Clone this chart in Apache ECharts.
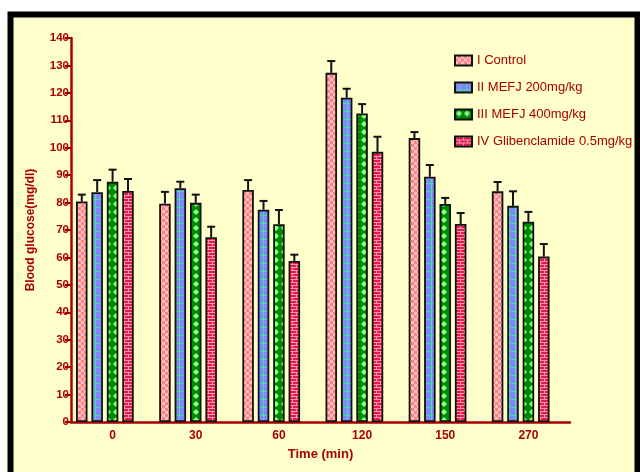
<!DOCTYPE html>
<html>
<head>
<meta charset="utf-8">
<script src="https://cdn.jsdelivr.net/npm/echarts@6/dist/echarts.min.js"></script>
<style>
  html, body { margin: 0; padding: 0; background: #ffffff; }
  #chart { width: 640px; height: 472px; }
</style>
</head>
<body>
<div id="chart"></div>
<script>
// Blood glucose over time, mean with SEM
const timePoints = ['0', '30', '60', '120', '150', '270'];
const groupNames = ['I Control', 'II MEFJ 200mg/kg', 'III MEFJ 400mg/kg', 'IV Glibenclamide 0.5mg/kg'];

const controlMean = [80.4, 79.6, 84.6, 127.3, 103.5, 84.1];
const controlSem  = [2.5, 4.3, 3.6, 4.3, 2.2, 3.4];
const mefj200Mean = [83.8, 85.2, 77.4, 118.2, 89.4, 78.8];
const mefj200Sem  = [4.4, 2.4, 3.2, 3.3, 4.3, 5.3];
const mefj400Mean = [87.6, 79.9, 72.1, 112.5, 79.5, 73.0];
const mefj400Sem  = [4.4, 3.0, 5.2, 3.4, 2.2, 3.6];
const glibMean    = [84.2, 67.4, 58.7, 98.5, 72.2, 60.3];
const glibSem     = [4.4, 3.8, 2.3, 5.5, 4.0, 4.6];

const yTicks = { min: 0, max: 140, step: 10 };

const means = [controlMean, mefj200Mean, mefj400Mean, glibMean];
const sems = [controlSem, mefj200Sem, mefj400Sem, glibSem];

// Fill patterns for the four groups
function makePattern(w, h, draw) {
  const c = document.createElement('canvas');
  c.width = w; c.height = h;
  draw(c.getContext('2d'));
  return { image: c, repeat: 'repeat' };
}
const fills = [
  makePattern(6, 6, g => {
    g.fillStyle = '#ff8080'; g.fillRect(0, 0, 6, 6);
    g.fillStyle = '#ffc0c0'; g.fillRect(0, 0, 3, 3); g.fillRect(3, 3, 3, 3);
  }),
  makePattern(6, 8, g => {
    g.fillStyle = '#8585ff'; g.fillRect(0, 0, 6, 8);
    g.fillStyle = '#3fe0a0'; g.fillRect(0, 7, 6, 1); g.fillRect(5, 0, 1, 8);
  }),
  makePattern(8, 8, g => {
    g.fillStyle = '#008a00'; g.fillRect(0, 0, 8, 8);
    g.fillStyle = '#8cff8c';
    g.beginPath(); g.moveTo(4, 1); g.lineTo(7, 4); g.lineTo(4, 7); g.lineTo(1, 4); g.closePath(); g.fill();
  }),
  makePattern(8, 6, g => {
    g.fillStyle = '#e8184a'; g.fillRect(0, 0, 8, 6);
    g.fillStyle = '#ff9ab0';
    g.fillRect(0, 0, 8, 1); g.fillRect(0, 3, 8, 1);
    g.fillRect(0, 0, 1, 3); g.fillRect(4, 3, 1, 3);
  })
];

const BAR_W = 11.5;
const GAP_RATIO = 0.34;
const STEP = BAR_W * (1 + GAP_RATIO);
const axisRed = '#a80000';
const fontStack = 'Liberation Sans, Arial, sans-serif';

const series = [];
groupNames.forEach((name, i) => {
  series.push({
    name: name,
    type: 'bar',
    barWidth: BAR_W,
    barGap: (GAP_RATIO * 100) + '%',
    data: means[i],
    itemStyle: { color: fills[i], borderColor: '#111', borderWidth: 1.8 },
    z: 3
  });
});
// empty slot so the tick sits on the third bar of each group
series.push({
  name: 'slot',
  type: 'bar',
  barWidth: BAR_W,
  barGap: (GAP_RATIO * 100) + '%',
  data: timePoints.map(() => null)
});
// upper SEM whiskers
groupNames.forEach((name, i) => {
  series.push({
    type: 'custom',
    z: 2,
    data: means[i].map((m, k) => [k, m, sems[i][k]]),
    renderItem: (params, api) => {
      const base = api.coord([api.value(0), api.value(1)]);
      const tip = api.coord([api.value(0), api.value(1) + api.value(2)]);
      const x = base[0] + (i - 2) * STEP;
      const style = { stroke: '#111', lineWidth: 2 };
      return {
        type: 'group',
        children: [
          { type: 'line', shape: { x1: x, y1: base[1], x2: x, y2: tip[1] }, style },
          { type: 'line', shape: { x1: x - 4, y1: tip[1], x2: x + 4, y2: tip[1] }, style }
        ]
      };
    }
  });
});

const chart = echarts.init(document.getElementById('chart'), null, { renderer: 'canvas' });
chart.setOption({
  animation: false,
  backgroundColor: '#ffffff',
  textStyle: { fontFamily: fontStack },
  graphic: [
    {
      type: 'rect', z: -10, silent: true,
      shape: { x: 10.5, y: 14.5, width: 627, height: 470 },
      style: { fill: '#ffffcc', stroke: '#000', lineWidth: 6 }
    }
  ],
  grid: { left: 71, right: 70, top: 38, bottom: 50, containLabel: false },
  legend: {
    data: groupNames,
    orient: 'vertical',
    left: 449,
    top: 49,
    itemWidth: 17,
    itemHeight: 10,
    itemGap: 14,
    icon: 'rect',
    textStyle: { color: axisRed, fontSize: 13, fontFamily: fontStack }
  },
  xAxis: {
    type: 'category',
    data: timePoints,
    name: 'Time (min)',
    nameLocation: 'middle',
    nameGap: 26,
    nameTextStyle: { color: axisRed, fontWeight: 'bold', fontSize: 13 },
    axisLine: { lineStyle: { color: axisRed, width: 2.5 } },
    axisTick: { alignWithLabel: true, length: 5, lineStyle: { color: axisRed, width: 2 } },
    axisLabel: { color: axisRed, fontWeight: 'bold', fontSize: 12, margin: 8 }
  },
  yAxis: {
    type: 'value',
    min: yTicks.min,
    max: yTicks.max,
    interval: yTicks.step,
    name: 'Blood glucose(mg/dl)',
    nameLocation: 'middle',
    nameGap: 34,
    nameTextStyle: { color: axisRed, fontWeight: 'bold', fontSize: 12 },
    splitLine: { show: false },
    axisLine: { show: true, lineStyle: { color: axisRed, width: 2.5 } },
    axisTick: { show: true, length: 6, lineStyle: { color: axisRed, width: 2 } },
    axisLabel: { color: axisRed, fontWeight: 'bold', fontSize: 11.5, margin: 2 }
  },
  series: series
});
</script>
</body>
</html>
